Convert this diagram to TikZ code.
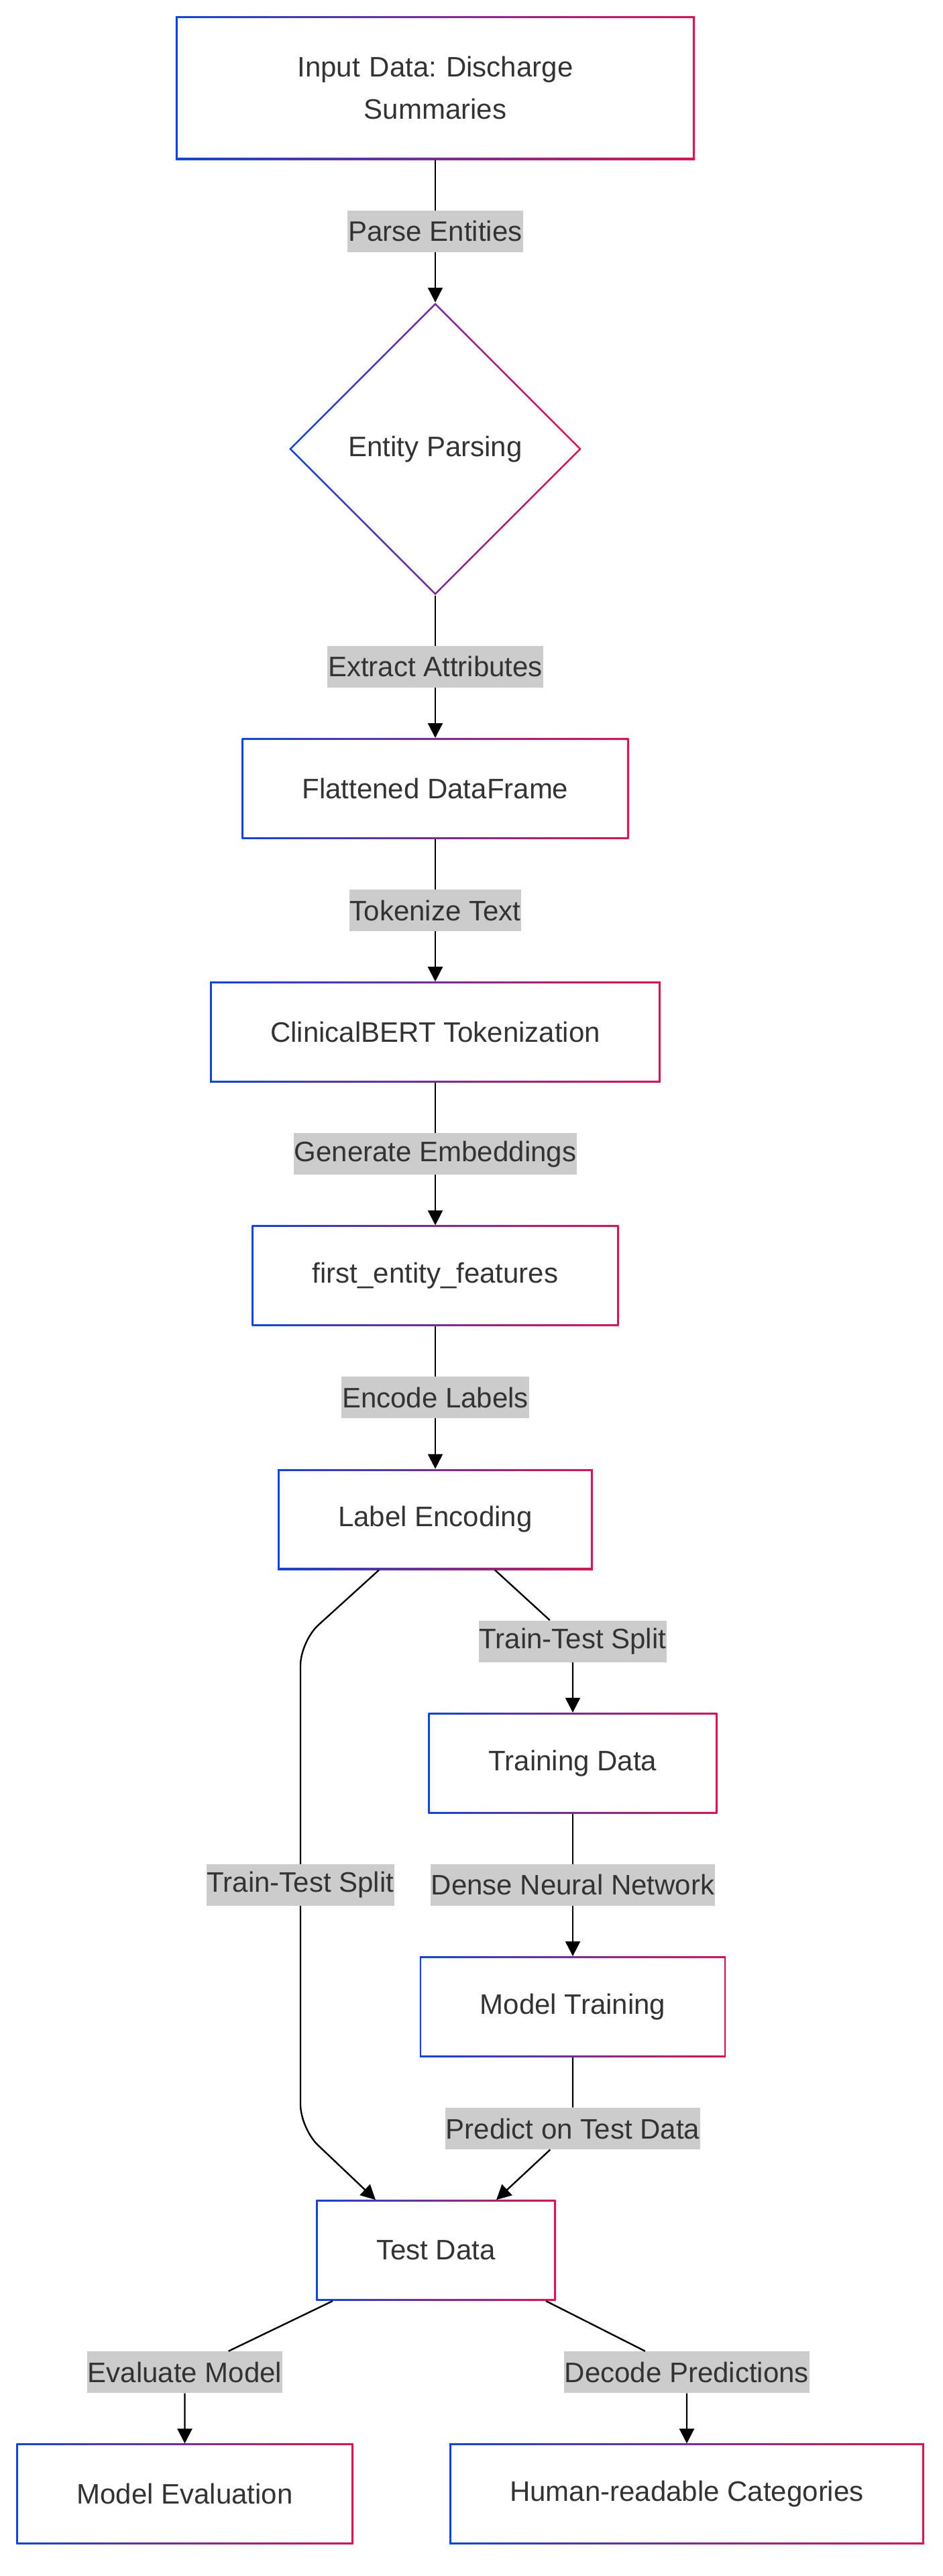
\documentclass[tikz,border=0pt]{standalone}
\usepackage{fontspec}
\setmainfont{Liberation Sans}
\usepackage{tikz}
\usetikzlibrary{arrows.meta,positioning,shapes.geometric,calc}
\definecolor{gradBlue}{HTML}{0A44F2}
\definecolor{gradRed}{HTML}{F00A4E}
\definecolor{txtGray}{HTML}{333333}
\definecolor{lblGray}{HTML}{CCCCCC}
\newcommand{\flowFont}{\fontsize{21}{31.5}\selectfont\frenchspacing}
\tikzset{
  flowBox/.style={
    rectangle,
    left color=gradBlue,
    right color=gradRed,
    path picture={
      \fill[white] ([shift={(1.3pt,1.3pt)}]path picture bounding box.south west)
        rectangle ([shift={(-1.3pt,-1.3pt)}]path picture bounding box.north east);
    },
    text=txtGray,
    font=\flowFont,
    minimum height=75pt,
    inner xsep=45pt,
    inner ysep=0pt
  },
  flowDiamond/.style={
    diamond,
    aspect=1,
    left color=gradBlue,
    right color=gradRed,
    path picture={
      \fill[white] ([yshift=-1.85pt]path picture bounding box.north)
        -- ([xshift=-1.85pt]path picture bounding box.east)
        -- ([yshift=1.85pt]path picture bounding box.south)
        -- ([xshift=1.85pt]path picture bounding box.west) -- cycle;
    },
    text=txtGray,
    font=\flowFont,
    minimum width=218pt,
    minimum height=218pt,
    inner sep=0pt
  },
  edgeLbl/.style={
    sharp corners,
    fill=lblGray,
    text=txtGray,
    font=\flowFont,
    inner xsep=0.5pt,
    inner ysep=0pt,
    minimum height=31pt
  },
  flowArrow/.style={
    -{Triangle[length=11pt,width=11pt]},
    line width=1.2pt,
    draw=black
  }
}

\begin{document}
\begin{tikzpicture}[node distance=106.2pt]
  \fill[white] (-324.5pt,65.5pt) rectangle (378.5pt,-1854.5pt);
  \useasboundingbox (-324.5pt,65.5pt) rectangle (378.5pt,-1854.5pt);

  \node[flowBox, minimum height=107pt, text width=297pt, align=center] (input) {Input Data: Discharge\\Summaries};
  \node[flowDiamond, below=of input] (parsing) {Entity Parsing};
  \node[flowBox, below=of parsing] (flat) {Flattened DataFrame};
  \node[flowBox, below=of flat] (tokens) {ClinicalBERT Tokenization};
  \node[flowBox, below=of tokens] (features) {first\_entity\_features};
  \node[flowBox, below=of features] (labels) {Label Encoding};
  \node[flowBox, below=of labels, xshift=102.5pt] (train) {Training Data};
  \node[flowBox, below=of train] (model) {Model Training};
  \node[flowBox, below=of model, xshift=-102pt] (test) {Test Data};
  \node[flowBox, below=of test, xshift=-187.25pt] (eval) {Model Evaluation};
  \node[flowBox, below=of test, xshift=187pt] (human) {Human-readable Categories};

  \foreach \a/\b/\t in {input/parsing/Parse Entities, parsing/flat/Extract Attributes,
      flat/tokens/Tokenize Text, tokens/features/Generate Embeddings,
      features/labels/Encode Labels, train/model/Dense Neural Network} {
    \draw[flowArrow] (\a) -- node[edgeLbl] (lbl\b) {\t} (\b);
  }

  \node[edgeLbl] (lblSplitR) at ([yshift=53.1pt]train.north) {Train-Test Split};
  \node[edgeLbl] (lblPredict) at ([yshift=-53.1pt]model.south) {Predict on Test Data};
  \node[edgeLbl] (lblEval) at ([yshift=53.1pt]eval.north) {Evaluate Model};
  \node[edgeLbl] (lblDecode) at ([yshift=53.1pt]human.north) {Decode Predictions};

  \draw[flowArrow] ([xshift=44.5pt]labels.south) -- (lblSplitR) -- (train);
  \draw[flowArrow] (model) -- (lblPredict) -- ([xshift=45pt]test.north);

  \coordinate (bendTop) at ([xshift=-203pt]lblSplitR.center);
  \coordinate (bendBot) at (bendTop |- lblPredict);
  \draw[flowArrow, rounded corners=18pt] ([xshift=-42pt]labels.south) -- (bendTop)
    -- node[edgeLbl] (lblSplitL) {Train-Test Split} (bendBot) -- ([xshift=-45pt]test.north);

  \draw[flowArrow] ([xshift=-77pt]test.south) -- (lblEval) -- (eval);
  \draw[flowArrow] ([xshift=82pt]test.south) -- (lblDecode) -- (human);
\end{tikzpicture}
\end{document}
